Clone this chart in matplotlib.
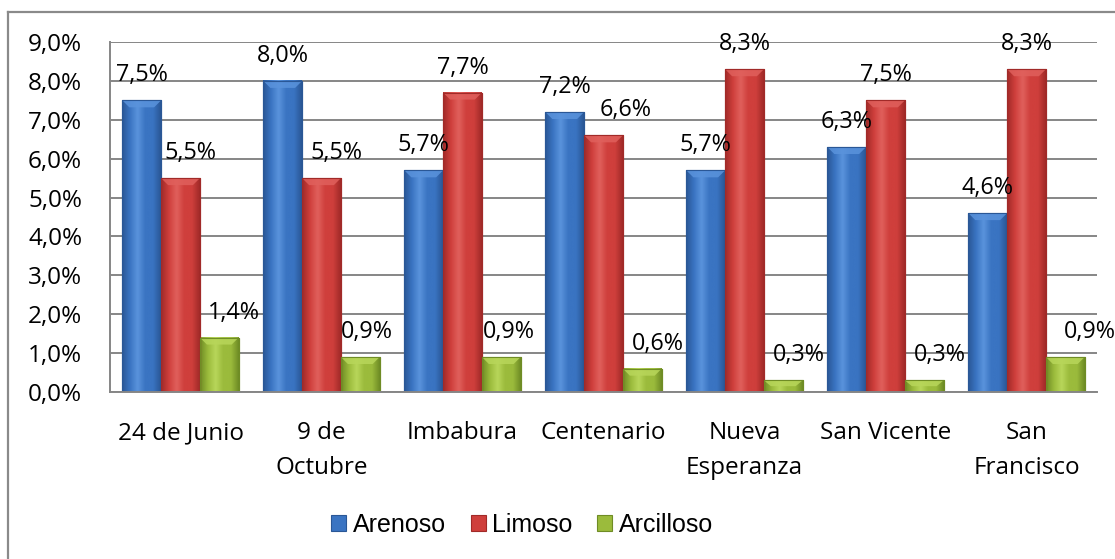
import numpy as np
import matplotlib
matplotlib.use("Agg")
import matplotlib.pyplot as plt
from matplotlib.patches import Patch, Polygon
from matplotlib.lines import Line2D
from matplotlib.colors import LinearSegmentedColormap

# ---- data ----
categories = ["24 de Junio", "9 de\nOctubre", "Imbabura", "Centenario",
              "Nueva\nEsperanza", "San Vicente", "San\nFrancisco"]
series_names = ["Arenoso", "Limoso", "Arcilloso"]
arenoso = [7.5, 8.0, 5.7, 7.2, 5.7, 6.3, 4.6]
limoso = [5.5, 5.5, 7.7, 6.6, 8.3, 7.5, 8.3]
arcilloso = [1.4, 0.9, 0.9, 0.6, 0.3, 0.3, 0.9]
y_ticks = [0, 1, 2, 3, 4, 5, 6, 7, 8, 9]

# ---- style / layout ----
W, H, DPI = 1115, 559, 100
num_font = "Open Sans"
tick_size = 17.5
label_size = 16.8
legend_font = "Liberation Sans"
legend_size = 18
grid_col = "#868686"
colors = {  # (dark edge, main, highlight)
    "Arenoso": ("#2a5796", "#3a74c2", "#5a93dc"),
    "Limoso": ("#a12a28", "#cf3f3c", "#e0605c"),
    "Arcilloso": ("#6f8c25", "#9bbb3c", "#b8d65a"),
}
# manual horizontal nudges (pixels) of the value labels, as in the original
label_nudge = {
    "Arenoso": [0, 0, 0, 0, 0, 0, 0],
    "Limoso": [10, 15, 0, 22, 0, 0, 0],
    "Arcilloso": [15, 7, 8, 16, 16, 16, 25],
}
bar_w = 0.275


def fmt(v, dec=1):
    return f"{v:.{dec}f}%".replace(".", ",")


fig = plt.figure(figsize=(W / DPI, H / DPI), dpi=DPI)
fig.patch.set_facecolor("white")
ax = fig.add_axes([110 / W, 1 - 392 / H, (1097 - 110) / W, (392 - 42) / H])
ax.set_xlim(-0.5, len(categories) - 0.5)
ax.set_ylim(0, 9)

ax.set_yticks(y_ticks)
ax.set_yticklabels([fmt(t) for t in y_ticks], fontsize=tick_size, family=num_font)
ax.yaxis.grid(True, color=grid_col, lw=1.4, zorder=0)
ax.set_axisbelow(True)
ax.tick_params(axis="y", length=0, pad=20)
ax.set_xticks(np.arange(len(categories)))
ax.set_xticklabels(categories, fontsize=tick_size, family=num_font, linespacing=1.58)
ax.tick_params(axis="x", length=0, pad=21)
for s in ["top", "right"]:
    ax.spines[s].set_visible(False)
for s in ["left", "bottom"]:
    ax.spines[s].set_color(grid_col)
    ax.spines[s].set_linewidth(1.4)

x = np.arange(len(categories))
all_series = [arenoso, limoso, arcilloso]
offsets = [-bar_w, 0, bar_w]

fig.canvas.draw()
px_per_x = ax.transData.transform((1, 0))[0] - ax.transData.transform((0, 0))[0]
px_per_y = ax.transData.transform((0, 1))[1] - ax.transData.transform((0, 0))[1]

for name, vals, off in zip(series_names, all_series, offsets):
    dark, main, light = colors[name]
    bars = ax.bar(x + off, vals, bar_w, color=main, edgecolor=dark, lw=0.8, zorder=2)
    cmap = LinearSegmentedColormap.from_list(name, [dark, main, light, main, main, dark])
    grad = np.linspace(0, 1, 64).reshape(1, -1)
    for rect, v, dx in zip(bars, vals, label_nudge[name]):
        x0, y0 = rect.get_x(), rect.get_y()
        w, h = rect.get_width(), rect.get_height()
        ax.imshow(grad, extent=[x0, x0 + w, y0, y0 + h], aspect="auto",
                  cmap=cmap, zorder=2.1, interpolation="bicubic")
        # top bevel
        bx = 7 / px_per_x
        by = min(7 / px_per_y, h / 2)
        ax.add_patch(Polygon([(x0, y0 + h), (x0 + w, y0 + h),
                              (x0 + w - bx, y0 + h - by), (x0 + bx, y0 + h - by)],
                             closed=True, facecolor=light, edgecolor="none",
                             alpha=0.85, zorder=2.2))
        ax.add_patch(Polygon([(x0, y0), (x0 + w, y0), (x0 + w, y0 + h), (x0, y0 + h)],
                             closed=True, fill=False, edgecolor=dark, lw=0.8, zorder=2.3))
        ax.annotate(fmt(v), (x0 + w / 2, y0 + h), xytext=(dx * 72 / DPI, 19 * 72 / DPI),
                    textcoords="offset points", ha="center", va="baseline",
                    fontsize=label_size, family=num_font, annotation_clip=False, zorder=3)

ax.set_xlim(-0.5, len(categories) - 0.5)
ax.set_ylim(0, 9)

# legend
handles = [Patch(facecolor=colors[n][1], edgecolor=colors[n][0], lw=0.8) for n in series_names]
fig.legend(handles, series_names, loc="center", bbox_to_anchor=(522 / W, 1 - 525 / H),
           ncol=3, frameon=False, handlelength=0.6, handleheight=0.6,
           handletextpad=0.25, columnspacing=1.0,
           prop={"family": legend_font, "size": legend_size})

# outer chart border (cropped on right and bottom)
bx0 = 7.5 / W
by0 = 1 - 11.5 / H
fig.add_artist(Line2D([bx0, bx0], [-0.1, by0], color="#8a8a8a", lw=1.6, transform=fig.transFigure))
fig.add_artist(Line2D([bx0, 1.1], [by0, by0], color="#8a8a8a", lw=1.6, transform=fig.transFigure))

fig.savefig("out.png", dpi=DPI)
